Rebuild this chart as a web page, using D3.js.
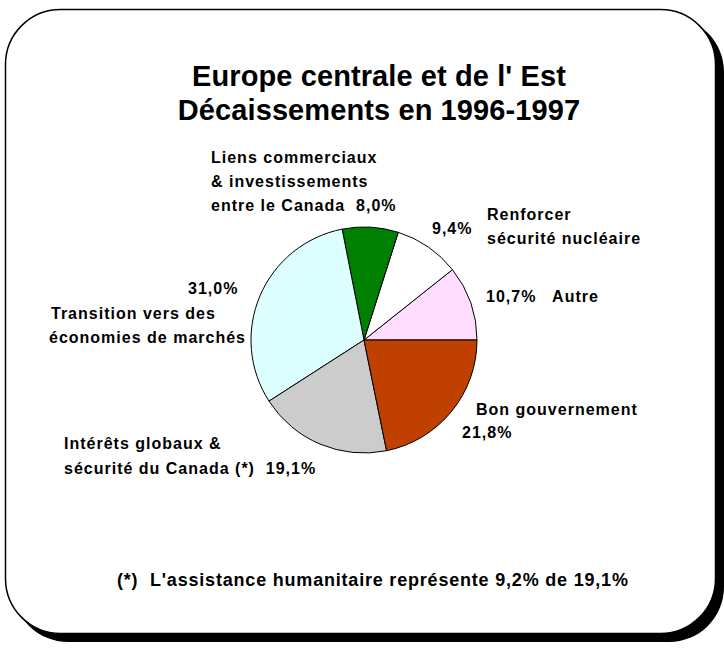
<!DOCTYPE html>
<html>
<head>
<meta charset="utf-8">
<script src="https://cdn.jsdelivr.net/npm/d3@7"></script>
<style>
  body { margin: 0; background: #fff; }
  text { font-family: "Liberation Sans", Arial, sans-serif; font-weight: bold; fill: #000; white-space: pre; }
</style>
</head>
<body>
<svg id="chart"></svg>
<script>
// Europe centrale et de l'Est - décaissements 1996-1997

var width = 724, height = 648;

// données (sens anti-horaire à partir de 3 heures)
const categories = ["Autre", "Renforcer sécurité nucléaire", "Liens commerciaux", "Transition", "Intérêts globaux", "Bon gouvernement"];
const values = [10.7, 9.4, 8.0, 31.0, 19.1, 21.8];
const colors = ["#FFDDFF", "#FFFFFF", "#008000", "#DDFFFF", "#CCCCCC", "#C04000"];

const titleLines = ["Europe centrale et de l' Est", "Décaissements en 1996-1997"];
const footnote = "(*)  L'assistance humanitaire représente 9,2% de 19,1%";

// étiquettes : lignes de texte, {pct} = pourcentage de la part
const labelLines = [
    [["{pct}   Autre", 486, 302]],
    [["Renforcer", 487, 220], ["sécurité nucléaire", 487, 244], ["{pct}", 432, 234]],
    [["Liens commerciaux", 211, 163], ["& investissements", 211, 187], ["entre le Canada  {pct}", 211, 211]],
    [["{pct}", 188, 294], ["Transition vers des", 51, 319], ["économies de marchés", 49, 343]],
    [["Intérêts globaux &", 64, 449], ["sécurité du Canada (*)  {pct}", 64, 474]],
    [["Bon gouvernement", 476, 415], ["{pct}", 462, 438]]
];

const fmt = v => d3.format(".1f")(v).replace(".", ",") + "%";

const svg = d3.select("#chart")
    .attr("width", width)
    .attr("height", height);

// cadre arrondi avec ombre
svg.append("rect")
    .attr("x", 13).attr("y", 17)
    .attr("width", 711).attr("height", 625)
    .attr("rx", 55).attr("ry", 55)
    .attr("fill", "#000");
svg.append("rect")
    .attr("x", 5.5).attr("y", 9.5)
    .attr("width", 710).attr("height", 624)
    .attr("rx", 55).attr("ry", 55)
    .attr("fill", "#fff")
    .attr("stroke", "#000")
    .attr("stroke-width", 1.5);

// titre
svg.selectAll(".titre")
    .data(titleLines)
    .enter().append("text")
    .attr("class", "titre")
    .attr("x", 379)
    .attr("y", (d, i) => 86 + i * 34)
    .attr("text-anchor", "middle")
    .style("font-size", "29px")
    .style("letter-spacing", "0.1px")
    .text(d => d);

// camembert
const cx = 364, cy = 340, r = 113;
const pie = d3.pie().sort(null)
    .startAngle(Math.PI / 2)
    .endAngle(Math.PI / 2 - 2 * Math.PI);
const arc = d3.arc().innerRadius(0).outerRadius(r);

const g = svg.append("g").attr("transform", `translate(${cx},${cy})`);
g.selectAll("path")
    .data(pie(values))
    .enter().append("path")
    .attr("d", arc)
    .attr("fill", (d, i) => colors[i])
    .attr("stroke", "#000")
    .attr("stroke-width", 1);

// étiquettes
labelLines.forEach((lines, i) => {
    lines.forEach(([txt, x, y]) => {
        svg.append("text")
            .attr("class", "label")
            .attr("x", x).attr("y", y)
            .style("font-size", "16px")
            .style("letter-spacing", "1px")
            .text(txt.replace("{pct}", fmt(values[i])));
    });
});

// note
svg.append("text")
    .attr("x", 117).attr("y", 586)
    .style("font-size", "18px")
    .style("letter-spacing", "0.8px")
    .text(footnote);
</script>
</body>
</html>
